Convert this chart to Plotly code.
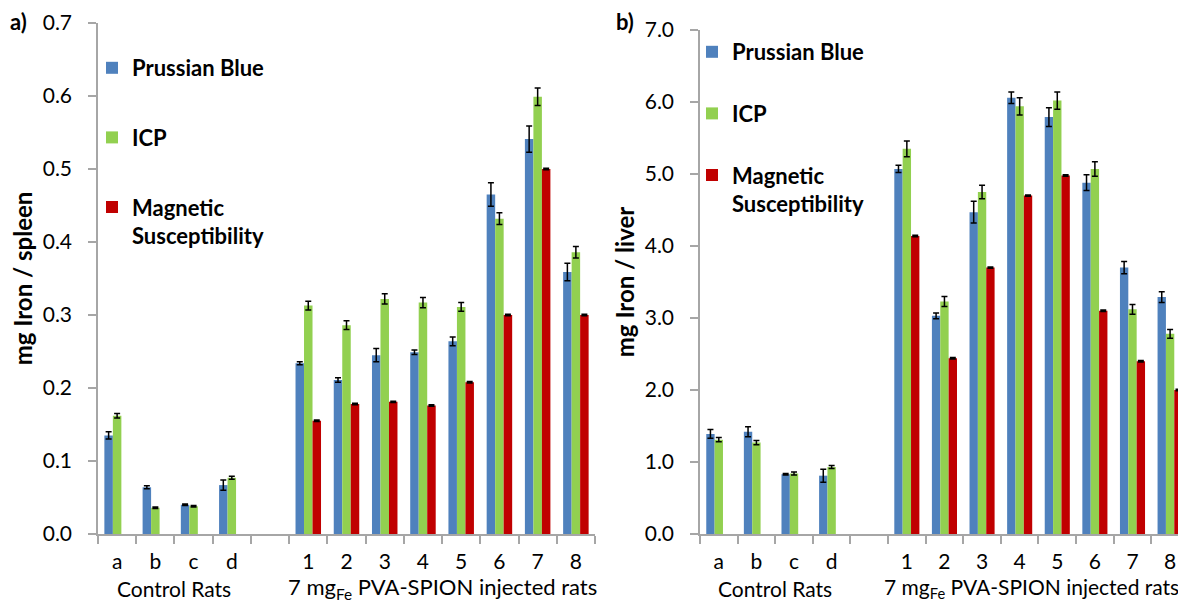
import plotly.graph_objects as go

categories = ["a", "b", "c", "d", " ", "1", "2", "3", "4", "5", "6", "7", "8"]
series_names = ["Prussian Blue", "ICP", "Magnetic<br>Susceptibility"]

# Spleen (panel a)
spleen_pb = [0.135, 0.064, 0.040, 0.067, None, 0.234, 0.211, 0.245, 0.249, 0.264, 0.465, 0.541, 0.359]
spleen_pb_err = [0.005, 0.002, 0.001, 0.007, 0, 0.002, 0.003, 0.009, 0.003, 0.006, 0.016, 0.018, 0.012]
spleen_icp = [0.162, 0.036, 0.038, 0.077, None, 0.313, 0.286, 0.322, 0.317, 0.311, 0.432, 0.599, 0.386]
spleen_icp_err = [0.003, 0.001, 0.001, 0.002, 0, 0.006, 0.006, 0.007, 0.007, 0.006, 0.008, 0.012, 0.008]
spleen_ms = [None, None, None, None, None, 0.155, 0.178, 0.181, 0.176, 0.208, 0.300, 0.500, 0.300]
spleen_ms_err = [0, 0, 0, 0, 0, 0.001, 0.001, 0.001, 0.001, 0.001, 0.001, 0.001, 0.001]

# Liver (panel b)
liver_pb = [1.39, 1.42, 0.83, 0.81, None, 5.07, 3.03, 4.47, 6.06, 5.79, 4.88, 3.70, 3.29]
liver_pb_err = [0.06, 0.07, 0.01, 0.09, 0, 0.05, 0.04, 0.15, 0.08, 0.13, 0.11, 0.085, 0.076]
liver_icp = [1.31, 1.27, 0.84, 0.93, None, 5.35, 3.23, 4.75, 5.94, 6.02, 5.07, 3.12, 2.78]
liver_icp_err = [0.03, 0.03, 0.02, 0.02, 0, 0.11, 0.07, 0.095, 0.12, 0.12, 0.10, 0.067, 0.06]
liver_ms = [None, None, None, None, None, 4.14, 2.44, 3.70, 4.70, 4.98, 3.10, 2.40, 2.00]
liver_ms_err = [0, 0, 0, 0, 0, 0.01, 0.01, 0.01, 0.01, 0.01, 0.01, 0.01, 0.01]

group_labels = ["Control Rats", "7 mg<sub>Fe</sub> PVA-SPION injected rats"]
y_titles = ["mg Iron / spleen", "mg Iron / liver"]
panel_labels = ["a)", "b)"]

colors = ["#4F81BD", "#92D050", "#C00000"]
FONT = "Lato, Carlito, Calibri, sans-serif"
W, H = 1178, 600

fig = go.Figure()

panels = [
    ("x", "y", "legend", [spleen_pb, spleen_icp, spleen_ms], [spleen_pb_err, spleen_icp_err, spleen_ms_err]),
    ("x2", "y2", "legend2", [liver_pb, liver_icp, liver_ms], [liver_pb_err, liver_icp_err, liver_ms_err]),
]
for xa, ya, leg, vals, errs in panels:
    for i in range(3):
        fig.add_trace(go.Bar(
            x=categories, y=vals[i], name=series_names[i],
            marker=dict(color=colors[i], line=dict(width=0)),
            error_y=dict(type="data", array=errs[i], visible=True,
                         color="black", thickness=1.5, width=3),
            xaxis=xa, yaxis=ya, legend=leg, legendgroup=leg + str(i),
            cliponaxis=True,
        ))

axis_gray = "#A6A6A6"
tickfont = dict(family=FONT, size=21, color="black")

def px_x(p):
    return p / W

def px_y(p):
    return 1 - p / H

xcommon = dict(type="category", categoryorder="array", categoryarray=categories,
               showline=True, linecolor=axis_gray, linewidth=1.5,
               ticks="outside", tickson="boundaries", ticklen=8, tickcolor=axis_gray,
               tickwidth=1.5, tickfont=tickfont, showgrid=False, zeroline=False,
               ticklabelstandoff=8, automargin=False)
ycommon = dict(showline=True, linecolor=axis_gray, linewidth=1.5,
               ticks="outside", ticklen=8, tickcolor=axis_gray, tickwidth=1.5,
               tickfont=tickfont, showgrid=False, zeroline=False, tickformat=".1f",
               ticklabelstandoff=12, automargin=False,
               title_font=dict(family=FONT, size=24, color="black"))

legfont = dict(family=FONT, size=22, color="black", weight="bold")

fig.update_layout(
    width=W, height=H, autosize=False,
    margin=dict(l=0, r=0, t=0, b=0, pad=0),
    paper_bgcolor="white", plot_bgcolor="white",
    barmode="group", bargap=0.333, bargroupgap=0,
    font=dict(family=FONT, color="black"),
    xaxis=dict(xcommon, domain=[px_x(98), px_x(595)], anchor="y", range=[-0.5, 12.5]),
    yaxis=dict(ycommon, domain=[px_y(534), px_y(23)], anchor="x", range=[0, 0.7],
               dtick=0.1, title=dict(text="<b>" + y_titles[0] + "</b>", standoff=3)),
    xaxis2=dict(xcommon, domain=[px_x(700), 1.0], anchor="y2", range=[-0.5, 12.21]),
    yaxis2=dict(ycommon, domain=[px_y(534), px_y(30)], anchor="x2", range=[0, 7.0],
                dtick=1.0, title=dict(text="<b>" + y_titles[1] + "</b>", standoff=3)),
    legend=dict(x=px_x(92), y=px_y(47), xanchor="left", yanchor="top",
                font=legfont, bgcolor="rgba(0,0,0,0)", tracegroupgap=38, valign="top",
                traceorder="grouped"),
    legend2=dict(x=px_x(692), y=px_y(31), xanchor="left", yanchor="top",
                 font=legfont, bgcolor="rgba(0,0,0,0)", tracegroupgap=30, valign="top",
                 traceorder="grouped"),
    showlegend=True,
)

gfont = dict(family=FONT, size=21, color="black")
gfont2 = dict(family=FONT, size=22, color="black")
annos = []
for xref in ("x", "x2"):
    annos.append(dict(text=group_labels[0], x=1.5, xref=xref, y=px_y(588), yref="paper",
                      yanchor="middle", showarrow=False, font=gfont))
annos.append(dict(text=group_labels[1], x=8.5, xref="x", y=px_y(588), yref="paper",
                  yanchor="middle", showarrow=False, font=gfont2))
annos.append(dict(text=group_labels[1], x=px_x(882), xref="paper", xanchor="left",
                  y=px_y(588), yref="paper", yanchor="middle",
                  showarrow=False, font=gfont))
pfont = dict(family=FONT, size=22, color="black")
annos.append(dict(text="<b>" + panel_labels[0] + "</b>", x=px_x(8), xanchor="left", xref="paper",
                  y=px_y(22), yref="paper", yanchor="middle", showarrow=False, font=pfont))
annos.append(dict(text="<b>" + panel_labels[1] + "</b>", x=px_x(614), xanchor="left", xref="paper",
                  y=px_y(22), yref="paper", yanchor="middle", showarrow=False, font=pfont))
fig.update_layout(annotations=annos)

fig.write_html("out.html", config={"displayModeBar": False},
               post_script="document.body.style.margin='0px';")
